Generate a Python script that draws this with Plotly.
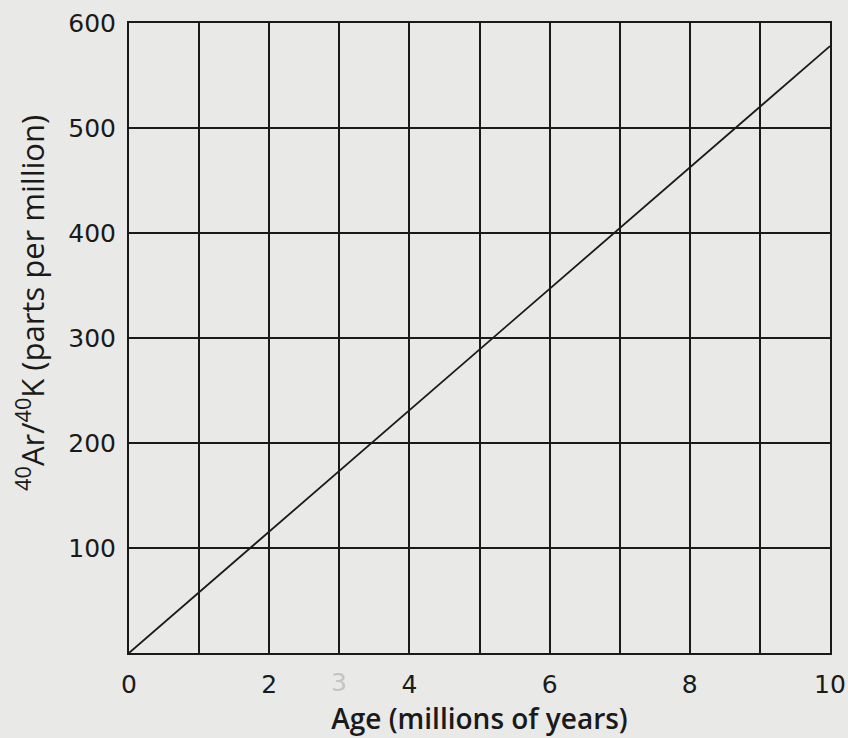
import plotly.graph_objects as go

age = [0, 10]
ratio = [0, 578]
x_ticks = [0, 2, 4, 6, 8, 10]
y_ticks = [100, 200, 300, 400, 500, 600]

ink = "#1a1a1a"
paper = "#e9e9e7"
tick_font = "DejaVu Sans, sans-serif"
title_font = "Open Sans, DejaVu Sans, sans-serif"

fig = go.Figure()
fig.add_trace(go.Scatter(x=age, y=ratio, mode="lines",
                         line=dict(color=ink, width=1.8), showlegend=False))

fig.update_xaxes(range=[0, 10], tickvals=x_ticks, ticktext=[str(v) for v in x_ticks],
                 automargin=False,
                 showgrid=True, gridcolor=ink, gridwidth=2,
                 minor=dict(dtick=1, showgrid=True, gridcolor=ink, gridwidth=2),
                 showline=True, linecolor=ink, linewidth=2, mirror=True,
                 zeroline=False, ticks="", ticklabelstandoff=8,
                 ticklabeloverflow="allow",
                 tickfont=dict(size=25, color=ink, family=tick_font),
                 title=dict(text="Age (millions of years)", standoff=6,
                            font=dict(size=28, color=ink, family=title_font, weight=600)))
fig.update_yaxes(range=[0, 600], tickvals=y_ticks,
                 automargin=False,
                 showgrid=True, gridcolor=ink, gridwidth=2,
                 showline=True, linecolor=ink, linewidth=2, mirror=True,
                 zeroline=False, ticks="", ticklabelstandoff=6,
                 tickfont=dict(size=25, color=ink, family=tick_font))

fig.add_annotation(x=-0.1404, y=0.555, xref="paper", yref="paper", xanchor="center", yanchor="middle",
                   text="<sup>40</sup>Ar/<sup>40</sup>K (parts per million)", textangle=-90,
                   showarrow=False, font=dict(size=31, color=ink, family=title_font))

fig.add_annotation(x=3, y=0, yref="y", text="3", showarrow=False, yshift=-29,
                   font=dict(size=25, color="#c4c4c4", family=tick_font))

fig.update_layout(width=848, height=738, paper_bgcolor=paper, plot_bgcolor=paper,
                  margin=dict(l=129, r=18, t=23, b=85, autoexpand=False))

fig.write_html("out.html", config={"displayModeBar": False},
               post_script="document.body.style.margin='0';document.body.style.overflow='hidden';")
